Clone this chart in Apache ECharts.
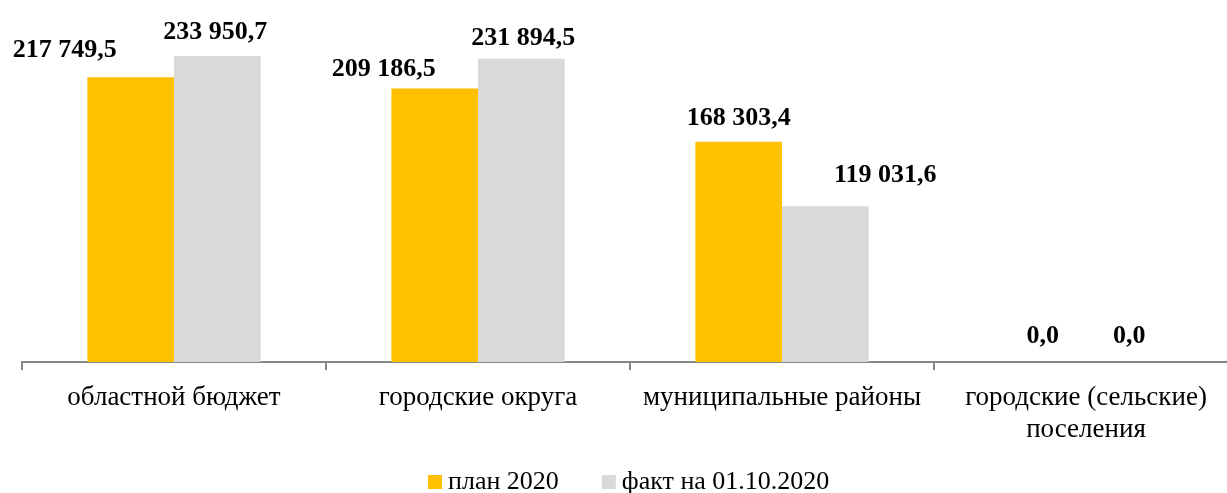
<!DOCTYPE html>
<html>
<head>
<meta charset="utf-8">
<script src="https://cdn.jsdelivr.net/npm/echarts@6/dist/echarts.min.js"></script>
<style>
html,body{margin:0;padding:0;background:#fff;}
#chart{width:1227px;height:493px;}
</style>
</head>
<body>
<div id="chart"></div>
<script>
const categories = ['областной бюджет', 'городские округа', 'муниципальные районы', 'городские (сельские)\nпоселения'];
const seriesNames = ['план 2020', 'факт на 01.10.2020'];
const planValues = [217749.5, 209186.5, 168303.4, 0.0];
const factValues = [233950.7, 231894.5, 119031.6, 0.0];

// label nudges (layout only)
const planLabelOffsets = [[-66, -3], [-51, 5], [0, 0], [0, -2]];
const factLabelOffsets = [[-2, 0], [2, 4], [60, -7], [0, -2]];

function fmt(v) {
  const parts = v.toFixed(1).split('.');
  const intPart = parts[0].replace(/\B(?=(\d{3})+(?!\d))/g, ' ');
  return intPart + ',' + parts[1];
}

function buildData(values, offsets) {
  return values.map((v, i) => ({ value: v, label: { offset: offsets[i] } }));
}

const chart = echarts.init(document.getElementById('chart'), null, { renderer: 'canvas' });
const serif = '"Liberation Serif", "Times New Roman", serif';
const labelStyle = {
  show: true,
  position: 'top',
  distance: 11,
  fontFamily: serif,
  fontSize: 26,
  lineHeight: 26,
  fontWeight: 'bold',
  color: '#000',
  formatter: p => fmt(p.value)
};

chart.setOption({
  animation: false,
  backgroundColor: '#fff',
  grid: { left: 22, top: 35, width: 1216, bottom: 131, containLabel: false, outerBoundsMode: 'none' },
  legend: {
    top: 469,
    left: 428,
    padding: 0,
    itemWidth: 14,
    itemHeight: 14,
    itemGap: 43,
    icon: 'rect',
    textStyle: { fontFamily: serif, fontSize: 26, color: '#000', padding: [0, 0, 0, 1] },
    data: seriesNames
  },
  xAxis: {
    type: 'category',
    data: categories,
    axisLine: { lineStyle: { color: '#868686', width: 2 } },
    axisTick: { show: true, length: 8, alignWithLabel: false, lineStyle: { color: '#868686', width: 2 } },
    axisLabel: { fontFamily: serif, fontSize: 27, lineHeight: 32, color: '#000', margin: 20, interval: 0 }
  },
  yAxis: {
    type: 'value',
    min: 0,
    max: 250000,
    show: false,
    splitLine: { show: false }
  },
  series: [
    {
      name: seriesNames[0],
      type: 'bar',
      data: buildData(planValues, planLabelOffsets),
      itemStyle: { color: '#FFC000' },
      barGap: '0%',
      barCategoryGap: '43%',
      label: labelStyle
    },
    {
      name: seriesNames[1],
      type: 'bar',
      data: buildData(factValues, factLabelOffsets),
      itemStyle: { color: '#D9D9D9' },
      barGap: '0%',
      barCategoryGap: '43%',
      label: labelStyle
    }
  ]
});
</script>
</body>
</html>
